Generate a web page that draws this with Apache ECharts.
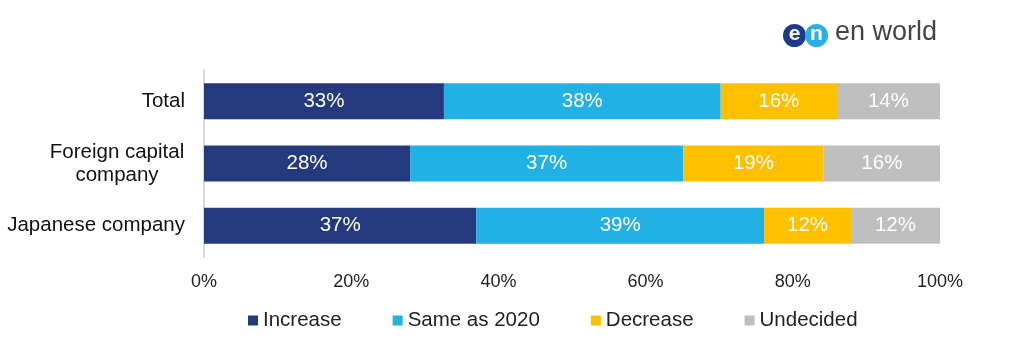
<!DOCTYPE html>
<html><head><meta charset="utf-8">
<script src="https://cdn.jsdelivr.net/npm/echarts@6/dist/echarts.min.js"></script>
<style>html,body{margin:0;padding:0;background:#fff}#c{width:1022px;height:353px}</style>
</head><body><div id="c"></div>
<script>
const categories = ['Total', 'Foreign capital\ncompany', 'Japanese company'];
const seriesNames = ['Increase', 'Same as 2020', 'Decrease', 'Undecided'];
const increase = [32.6, 28.0, 37.0];
const same2020 = [37.6, 37.1, 39.1];
const decrease = [15.8, 19.1, 11.8];
const undecided = [14.0, 15.8, 12.1];
const colors = ['#253a7e', '#22b1e5', '#ffc000', '#bfbfbf'];
const xTicks = [0, 20, 40, 60, 80, 100];

const F = 'Liberation Sans, Arial, sans-serif';
const chart = echarts.init(document.getElementById('c'));
const vals = [increase, same2020, decrease, undecided];
chart.setOption({
  animation: false,
  grid: {left: 204, right: 82, top: 70, bottom: 96},
  legend: {
    top: 305, left: 243, itemWidth: 10, itemHeight: 10, itemGap: 51,
    icon: 'rect',
    textStyle: {fontFamily: F, fontSize: 20.5, color: '#222', padding: [0, 0, 0, 0]},
    data: seriesNames
  },
  xAxis: {
    type: 'value', min: 0, max: 100, interval: 20,
    axisLabel: {formatter: v => v + '%', fontFamily: F, fontSize: 18, color: '#222', margin: 16},
    splitLine: {show: false}, axisLine: {show: false}, axisTick: {show: false}
  },
  yAxis: {
    type: 'category', inverse: true, data: categories,
    axisLine: {show: true, lineStyle: {color: '#d9d9d9', width: 2}},
    axisTick: {show: false},
    axisLabel: {
      fontFamily: F, fontSize: 20.5, color: '#111', margin: 19, lineHeight: 23,
      formatter: v => v.indexOf('\n') >= 0 ? v.split('\n').map(s => '{c|' + s + '}').join('\n') : v,
      rich: {c: {fontFamily: F, fontSize: 20.5, color: '#111', width: 136, align: 'center', lineHeight: 23}}
    }
  },
  series: seriesNames.map((n, i) => ({
    name: n, type: 'bar', stack: 'a', barWidth: 36,
    itemStyle: {color: colors[i]},
    label: {show: true, position: 'inside', color: '#fff', fontFamily: F, fontSize: 20.5,
      formatter: p => Math.round(p.value) + '%'},
    data: vals[i]
  })),
  graphic: [
    {type: 'circle', shape: {cx: 794.5, cy: 35.5, r: 11.5}, style: {fill: '#1f3a8a'}},
    {type: 'circle', shape: {cx: 816.5, cy: 35.5, r: 11.5}, style: {fill: '#29b1e6'}},
    {type: 'text', x: 794.5, y: 34.5, style: {text: 'e', fill: '#fff', align: 'center', verticalAlign: 'middle', font: 'bold 21px Liberation Sans, Arial'}},
    {type: 'text', x: 816.5, y: 34.5, style: {text: 'n', fill: '#fff', align: 'center', verticalAlign: 'middle', font: 'bold 21px Liberation Sans, Arial'}},
    {type: 'text', left: 835, top: 19, style: {text: 'en world', fill: '#444', font: '27px Liberation Sans, Arial'}}
  ]
});
</script></body></html>
